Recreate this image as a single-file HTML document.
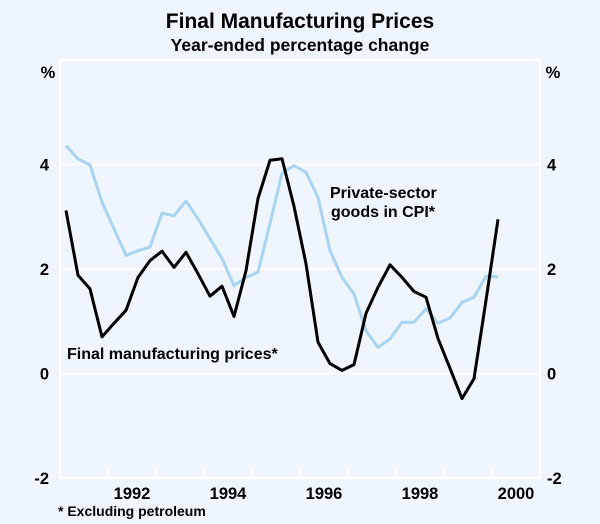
<!DOCTYPE html>
<html><head><meta charset="utf-8"><style>
body{margin:0;background:#eef5fc;}
svg{display:block;font-family:"Liberation Sans",Arial,sans-serif;}
</style></head><body>
<svg id="chart" width="600" height="524" viewBox="0 0 600 524">
<rect width="600" height="524" fill="#eef5fc"/>
<text x="300" y="28" text-anchor="middle" font-size="21" font-weight="bold">Final Manufacturing Prices</text>
<text x="300" y="51" text-anchor="middle" font-size="17.5" font-weight="bold">Year-ended percentage change</text>
<text x="48" y="78" text-anchor="middle" font-size="16.5" font-weight="bold">%</text>
<text x="553" y="78" text-anchor="middle" font-size="16.5" font-weight="bold">%</text>
<g id="grid"></g>
<g id="series"></g>
<text x="67" y="359" font-size="16" font-weight="bold">Final manufacturing prices*</text>
<text x="330" y="198" font-size="16" font-weight="bold">Private-sector</text>
<text x="331" y="217" font-size="16" font-weight="bold">goods in CPI*</text>
<text x="58" y="516" font-size="14" font-weight="bold">* Excluding petroleum</text>
</svg>
<script>
const yTicks=[-2,0,2,4];
const yearLabels=["1992","1994","1996","1998","2000"];
const fmp=[3.12,1.88,1.62,0.70,0.96,1.21,1.84,2.16,2.34,2.03,2.32,1.91,1.48,1.67,1.09,1.97,3.35,4.08,4.11,3.2,2.1,0.60,0.19,0.06,0.17,1.15,1.65,2.08,1.84,1.57,1.46,0.67,0.10,-0.48,-0.10,1.40,2.95];
const cpi=[4.36,4.11,3.99,3.28,2.77,2.26,2.35,2.42,3.07,3.02,3.30,2.96,2.58,2.20,1.68,1.84,1.94,2.87,3.83,3.98,3.85,3.37,2.35,1.84,1.52,0.82,0.50,0.66,0.98,0.98,1.24,0.96,1.06,1.36,1.46,1.86,1.85];
const startYear=1991, endYear=2001, yMin=-2, yMax=6;
const L=60,R=540,T=60,B=478;
const xS=t=>L+(t-startYear)/(endYear-startYear)*(R-L);
const yS=v=>B-(v-yMin)/(yMax-yMin)*(B-T);
const NS="http://www.w3.org/2000/svg";
const grid=document.getElementById('grid'), ser=document.getElementById('series'), svg=document.getElementById('chart');
function mk(tag,attrs,parent){const e=document.createElementNS(NS,tag);for(const k in attrs)e.setAttribute(k,attrs[k]);parent.appendChild(e);return e;}
let f=mk('rect',{x:L,y:T,width:R-L,height:B-T,fill:'none',stroke:'#fff','stroke-width':2},grid);


yTicks.forEach(v=>{
  const g=mk('line',{x1:L,x2:R,y1:yS(v),y2:yS(v),stroke:'#fff','stroke-width':2},grid);
  
  
  const a=mk('text',{x:L-11,y:yS(v)+6,'text-anchor':'end','font-size':16.5,'font-weight':'bold'},svg);
  a.textContent=v;
  
  
  const b=mk('text',{x:R+7,y:yS(v)+6,'text-anchor':'start','font-size':16.5,'font-weight':'bold'},svg);
  b.textContent=v;
  
  
});
for(let y=startYear+1;y<endYear;y++){
  const t=mk('line',{x1:xS(y),x2:xS(y),y1:B,y2:B-11,stroke:'#fff','stroke-width':2},grid);
  
  
}
yearLabels.forEach(s=>{
  const y=+s;
  let cx=xS(y+0.5); if(cx>R-22) cx=R-22;
  const t=mk('text',{x:cx,y:B+21,'text-anchor':'middle','font-size':16.5,'font-weight':'bold'},svg);
  t.textContent=s;
  
  
});
function line(data,color,name){
  const pts=data.map((v,i)=>xS(startYear+(i+0.5)/4).toFixed(1)+','+yS(v).toFixed(1)).join(' ');
  const p=mk('polyline',{points:pts,fill:'none',stroke:color,'stroke-width':3,'stroke-linejoin':'round'},ser);
  
  
}
line(cpi,'#a8d4f2','line-private-sector-goods');
line(fmp,'#000','line-final-manufacturing');
</script>
</body></html>
